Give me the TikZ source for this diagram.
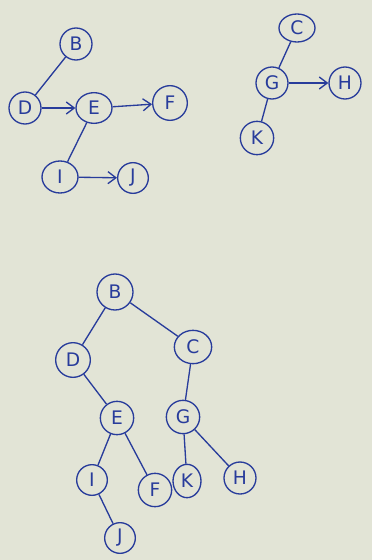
\documentclass[tikz,border=0pt]{standalone}
\usepackage{fontspec}
\setsansfont{DejaVu Sans}
\usetikzlibrary{shapes.geometric,arrows.meta}
\definecolor{paper}{RGB}{226,228,214}
\definecolor{ink}{RGB}{40,60,155}
\tikzset{
  vtx/.style={draw=ink,circle,line width=1pt,inner sep=0pt,minimum size=24pt,
    text=ink,font=\sffamily\fontsize{14}{14}\selectfont},
  edge/.style={draw=ink,line width=1pt},
  dir/.style={edge,-{Straight Barb[length=6pt,width=9pt]}}
}
\begin{document}
\begin{tikzpicture}[x=0.75pt,y=0.75pt,yscale=-1,xscale=1]
    % paper
    \fill[paper] (0,0) rectangle (372,560);
    \useasboundingbox (0,0) rectangle (372,560);

    % forest, left part
    \node[vtx] (b1) at (76,44) {B};
    \node[vtx] (d1) at (25,108) {D};
    \node[vtx,minimum width=27pt,minimum height=23pt,ellipse] (e1) at (94,108) {E};
    \node[vtx,minimum size=26pt] (f1) at (170,103) {F};
    \node[vtx,minimum width=27pt,minimum height=24pt,ellipse] (i1) at (60,177) {I};
    \node[vtx,minimum size=23pt] (j1) at (133,178) {J};
    \draw[edge] (b1) -- (d1);
    \draw[dir] (d1) -- (e1);
    \draw[dir] (e1) -- (f1);
    \draw[edge] (i1) -- (e1);
    \draw[dir] (i1) -- (j1);

    % forest, right part
    \node[vtx,minimum width=27pt,minimum height=21pt,ellipse] (c1) at (297,28) {C};
    \node[vtx] (g1) at (272,83) {G};
    \node[vtx] (h1) at (345,83) {H};
    \node[vtx,minimum size=25pt] (k1) at (257,138) {K};
    \draw[edge] (c1) -- (g1);
    \draw[dir] (g1) -- (h1);
    \draw[edge] (g1) -- (k1);

    % binary tree
    \node[vtx,minimum size=27pt] (b2) at (115,292) {B};
    \node[vtx,minimum width=28pt,minimum height=25pt,ellipse] (c2) at (193,347) {C};
    \node[vtx,minimum size=26pt] (d2) at (73,360) {D};
    \node[vtx,minimum size=25pt] (e2) at (117,418) {E};
    \node[vtx,minimum size=25pt] (g2) at (183,417) {G};
    \node[vtx,minimum size=23pt] (i2) at (92,480) {I};
    \node[vtx,minimum size=25pt] (f2) at (155,490) {F};
    \node[vtx,minimum width=21pt,minimum height=25pt,ellipse] (k2) at (187,481) {K};
    \node[vtx,minimum size=24pt] (h2) at (240,478) {H};
    \node[vtx,minimum size=23pt] (j2) at (120,538) {J};
    \draw[edge] (b2) -- (d2);
    \draw[edge] (b2) -- (c2);
    \draw[edge] (d2) -- (e2);
    \draw[edge] (c2) -- (g2);
    \draw[edge] (e2) -- (i2);
    \draw[edge] (e2) -- (f2);
    \draw[edge] (g2) -- (k2);
    \draw[edge] (g2) -- (h2);
    \draw[edge] (i2) -- (j2);
\end{tikzpicture}
\end{document}
